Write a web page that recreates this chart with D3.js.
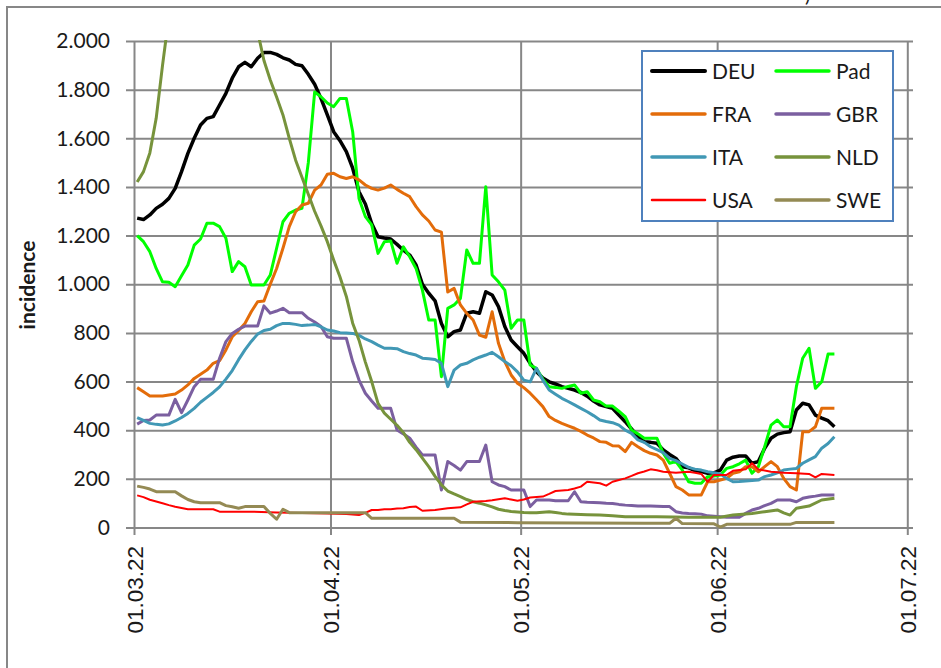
<!DOCTYPE html>
<meta charset="utf-8">
<script src="https://d3js.org/d3.v7.min.js"></script>
<style>
  body { margin: 0; background: #fff; }
  svg text { font-family: Lato, "Liberation Sans", sans-serif; fill: #1a1a1a; }
  .xlab text { font-family: "Liberation Sans", Arial, sans-serif; }
</style>
<div id="chart"></div>
<script>

// days counted from 01.03.22, value = incidence
var deu = [[0,1272],[1,1266],[2,1285],[3,1312],[4,1329],[5,1353],[6,1394],[7,1463],[8,1538],[9,1600],[10,1655],[11,1682],[12,1689],[13,1737],[14,1785],[15,1847],[16,1894],[17,1912],[18,1894],[19,1929],[20,1953],[21,1953],[22,1945],[23,1931],[24,1922],[25,1904],[26,1898],[27,1863],[28,1822],[29,1764],[30,1696],[31,1627],[32,1590],[33,1545],[34,1477],[35,1380],[36,1330],[37,1250],[38,1195],[39,1190],[40,1186],[41,1164],[42,1140],[43,1120],[44,1079],[45,1000],[46,963],[47,932],[48,839],[49,784],[50,805],[51,812],[52,881],[53,887],[54,881],[55,969],[56,956],[57,908],[58,826],[59,771],[60,743],[61,716],[62,675],[63,640],[64,615],[65,599],[66,590],[67,579],[68,572],[69,565],[70,555],[71,540],[72,520],[73,504],[74,497],[75,490],[76,462],[77,435],[78,405],[79,375],[80,353],[81,350],[82,346],[83,319],[84,300],[85,284],[86,250],[87,245],[88,234],[89,230],[90,223],[91,225],[92,236],[93,277],[94,289],[95,294],[96,294],[97,264],[98,271],[99,326],[100,367],[101,384],[102,390],[103,394],[104,483],[105,511],[106,504],[107,462],[108,450],[109,439],[110,414]];

var pad = [[0,1200],[1,1175],[2,1134],[3,1065],[4,1010],[5,1008],[6,990],[7,1035],[8,1079],[9,1161],[10,1186],[11,1251],[12,1251],[13,1237],[14,1189],[15,1052],[16,1093],[17,1072],[18,997],[19,997],[20,997],[21,1038],[22,1148],[23,1257],[24,1292],[25,1305],[26,1312],[27,1500],[28,1790],[29,1771],[30,1745],[31,1730],[32,1764],[33,1764],[34,1627],[35,1353],[36,1278],[37,1244],[38,1127],[39,1175],[40,1178],[41,1086],[42,1154],[43,1113],[44,1065],[45,976],[46,853],[47,853],[48,620],[49,901],[50,915],[51,942],[52,1141],[53,1086],[54,1086],[55,1401],[56,1038],[57,1010],[58,976],[59,819],[60,853],[61,853],[62,668],[63,654],[64,610],[65,579],[66,576],[67,572],[68,580],[69,586],[70,552],[71,558],[72,524],[73,517],[74,499],[75,499],[76,478],[77,456],[78,401],[79,385],[80,367],[81,367],[82,367],[83,305],[84,264],[85,271],[86,236],[87,188],[88,182],[89,182],[90,209],[91,212],[92,216],[93,243],[94,250],[95,262],[96,277],[97,223],[98,250],[99,332],[100,421],[101,442],[102,414],[103,414],[104,579],[105,696],[106,737],[107,572],[108,599],[109,713],[110,713]];

var fra = [[0,575],[1,558],[2,541],[3,541],[4,541],[5,545],[6,549],[7,565],[8,586],[9,613],[10,630],[11,647],[12,675],[13,686],[14,730],[15,784],[16,810],[17,839],[18,887],[19,928],[20,931],[21,1000],[22,1065],[23,1148],[24,1237],[25,1298],[26,1326],[27,1333],[28,1387],[29,1408],[30,1452],[31,1456],[32,1442],[33,1435],[34,1442],[35,1429],[36,1408],[37,1394],[38,1387],[39,1395],[40,1408],[41,1390],[42,1374],[43,1360],[44,1319],[45,1285],[46,1260],[47,1223],[48,1214],[49,968],[50,983],[51,915],[52,880],[53,853],[54,791],[55,782],[56,887],[57,757],[58,682],[59,627],[60,593],[61,575],[62,552],[63,525],[64,497],[65,456],[66,440],[67,428],[68,418],[69,408],[70,395],[71,380],[72,368],[73,353],[74,350],[75,336],[76,335],[77,312],[78,350],[79,332],[80,316],[81,305],[82,298],[83,277],[84,223],[85,168],[86,154],[87,134],[88,134],[89,134],[90,188],[91,188],[92,195],[93,202],[94,223],[95,229],[96,250],[97,250],[98,229],[99,250],[100,271],[101,250],[102,202],[103,168],[104,154],[105,394],[106,394],[107,414],[108,490],[109,490],[110,490]];

var gbr = [[0,425],[1,440],[2,442],[3,462],[4,462],[5,462],[6,527],[7,472],[8,524],[9,579],[10,609],[11,609],[12,609],[13,696],[14,764],[15,798],[16,815],[17,828],[18,828],[19,828],[20,911],[21,881],[22,890],[23,901],[24,883],[25,883],[26,883],[27,860],[28,845],[29,826],[30,784],[31,778],[32,778],[33,778],[34,682],[35,606],[36,552],[37,520],[38,490],[39,490],[40,490],[41,401],[42,385],[43,367],[44,330],[45,298],[46,298],[47,298],[48,154],[49,271],[50,255],[51,236],[52,271],[53,271],[54,271],[55,339],[56,188],[57,175],[58,168],[59,154],[60,154],[61,154],[62,86],[63,113],[64,113],[65,113],[66,110],[67,110],[68,110],[69,147],[70,106],[71,104],[72,103],[73,102],[74,100],[75,99],[76,95],[77,92],[78,90],[79,88],[80,88],[81,88],[82,87],[83,86],[84,86],[85,65],[86,60],[87,58],[88,57],[89,55],[90,48],[91,46],[92,44],[93,42],[94,42],[95,42],[96,58],[97,72],[98,79],[99,90],[100,99],[101,113],[102,113],[103,113],[104,106],[105,120],[106,125],[107,129],[108,134],[109,134],[110,134]];

var ita = [[0,452],[1,440],[2,428],[3,424],[4,421],[5,426],[6,438],[7,452],[8,469],[9,490],[10,515],[11,535],[12,555],[13,578],[14,610],[15,645],[16,690],[17,730],[18,765],[19,795],[20,810],[21,815],[22,830],[23,839],[24,839],[25,835],[26,830],[27,832],[28,835],[29,825],[30,812],[31,808],[32,801],[33,800],[34,798],[35,790],[36,775],[37,764],[38,750],[39,737],[40,737],[41,735],[42,723],[43,715],[44,709],[45,696],[46,694],[47,691],[48,675],[49,579],[50,647],[51,668],[52,675],[53,689],[54,700],[55,709],[56,720],[57,702],[58,682],[59,665],[60,640],[61,606],[62,599],[63,654],[64,606],[65,565],[66,548],[67,531],[68,518],[69,504],[70,490],[71,476],[72,460],[73,442],[74,436],[75,431],[76,421],[77,400],[78,387],[79,360],[80,350],[81,332],[82,320],[83,308],[84,284],[85,275],[86,261],[87,247],[88,240],[89,236],[90,229],[91,225],[92,220],[93,202],[94,188],[95,189],[96,191],[97,193],[98,195],[99,209],[100,216],[101,225],[102,236],[103,240],[104,243],[105,264],[106,278],[107,291],[108,326],[109,345],[110,373]];

// NLD runs above the axis maximum between roughly day 5 and day 19
var nld = [[0,1420],[1,1463],[2,1540],[3,1682],[4,1900],[5,2100],[8,2450],[12,2500],[16,2250],[19,2040],[20,1920],[21,1840],[22,1770],[23,1696],[24,1600],[25,1510],[26,1440],[27,1370],[28,1300],[29,1240],[30,1175],[31,1100],[32,1030],[33,950],[34,840],[35,770],[36,680],[37,600],[38,510],[39,470],[40,445],[41,420],[42,390],[43,350],[44,320],[45,285],[46,250],[47,210],[48,175],[49,150],[50,138],[51,127],[52,115],[53,106],[54,100],[55,93],[56,85],[57,75],[58,70],[59,66],[60,64],[61,62],[62,61],[63,61],[64,63],[65,65],[66,62],[67,58],[68,55],[69,54],[71,52],[73,51],[75,48],[77,44],[82,44],[87,42],[92,42],[94,51],[97,58],[99,65],[101,72],[102,60],[103,51],[104,79],[106,88],[108,113],[110,120]];

var usa = [[0,132],[1,125],[2,114],[3,107],[4,100],[5,92],[6,85],[7,80],[8,75],[12,75],[13,65],[18,65],[22,62],[26,60],[30,58],[33,55],[35,51],[36,60],[37,72],[38,72],[39,75],[40,75],[41,78],[42,79],[43,84],[44,86],[45,69],[47,72],[49,79],[51,83],[52,95],[53,106],[55,109],[56,112],[58,120],[59,115],[60,110],[61,115],[62,123],[64,127],[65,138],[66,150],[68,154],[69,160],[70,168],[71,188],[72,185],[73,182],[74,172],[75,188],[76,195],[77,202],[78,212],[79,223],[80,230],[81,239],[82,235],[83,229],[85,225],[87,229],[88,225],[89,220],[90,188],[91,216],[93,216],[94,233],[95,236],[96,239],[97,264],[98,239],[100,229],[102,225],[104,223],[106,220],[107,206],[108,220],[110,216]];

var swe = [[0,170],[1,165],[2,158],[3,147],[4,147],[5,147],[6,147],[7,130],[8,115],[9,106],[10,102],[13,102],[14,90],[15,85],[16,79],[17,86],[20,86],[21,58],[22,34],[23,75],[24,61],[36,61],[37,38],[50,38],[51,22],[60,20],[70,18],[80,17],[84,17],[85,38],[86,16],[91,15],[92,2],[93,13],[103,13],[104,21],[110,21]];

var yTicks = [0, 200, 400, 600, 800, 1000, 1200, 1400, 1600, 1800, 2000];
var xTickLabels = ["01.03.22", "01.04.22", "01.05.22", "01.06.22", "01.07.22"];

var series = [
  { name: "DEU", color: "#000000", width: 3.5, data: deu },
  { name: "Pad", color: "#00ff00", width: 3, data: pad },
  { name: "FRA", color: "#e36c0a", width: 3, data: fra },
  { name: "GBR", color: "#7b5fa0", width: 3, data: gbr },
  { name: "ITA", color: "#4198b5", width: 3, data: ita },
  { name: "NLD", color: "#77933c", width: 3, data: nld },
  { name: "USA", color: "#ff0000", width: 2, data: usa },
  { name: "SWE", color: "#948a54", width: 3, data: swe }
];

var W = 941, H = 668;
var gridColor = "#878787";

var svg = d3.select("#chart").append("svg")
  .attr("width", W)
  .attr("height", H);

// frame of the (cropped) chart area
svg.append("path")
  .attr("d", "M7," + H + "V7H" + W)
  .attr("fill", "none")
  .attr("stroke", gridColor)
  .attr("stroke-width", 2);

// piece of the cut off title
svg.append("text").attr("x", 805).attr("y", 2).attr("font-size", 20).text(")");

var parse = d3.timeParse("%d.%m.%y");
var start = parse(xTickLabels[0]);

var x = d3.scaleTime()
  .domain([start, parse(xTickLabels[xTickLabels.length - 1])])
  .range([134, 907.3]);

var y = d3.scaleLinear()
  .domain([0, 2000])
  .range([527.5, 41]);

var de = d3.formatLocale({ decimal: ",", thousands: ".", grouping: [3], currency: ["", " €"] });

// y axis with horizontal gridlines
svg.append("g")
  .attr("transform", "translate(126,0)")
  .call(d3.axisLeft(y)
    .tickValues(yTicks)
    .tickSizeInner(-(913 - 126))
    .tickSizeOuter(0)
    .tickPadding(16)
    .tickFormat(de.format(",d")))
  .call(g => g.select(".domain").remove())
  .call(g => g.selectAll("line").attr("stroke", gridColor).attr("stroke-width", 2))
  .call(g => g.selectAll("text")
    .attr("font-size", 21)
    .attr("fill", "#1a1a1a")
    .style("font-family", "Lato, 'Liberation Sans', sans-serif"));

// x axis with vertical gridlines
svg.append("g")
  .attr("class", "xlab")
  .attr("transform", "translate(0,535)")
  .call(d3.axisBottom(x)
    .tickValues(xTickLabels.map(parse))
    .tickSizeInner(-(535 - 41))
    .tickSizeOuter(0)
    .tickFormat(d3.timeFormat("%d.%m.%y")))
  .call(g => g.select(".domain").remove())
  .call(g => g.selectAll("line").attr("stroke", gridColor).attr("stroke-width", 2))
  .call(g => g.selectAll("text")
    .attr("font-size", 22.5)
    .attr("fill", "#1a1a1a")
    .attr("transform", "rotate(-90)")
    .attr("text-anchor", "end")
    .attr("x", -11)
    .attr("y", 0)
    .attr("dy", "0.36em"));

// y axis title
svg.append("text")
  .attr("transform", "translate(35,285) rotate(-90)")
  .attr("text-anchor", "middle")
  .attr("font-size", 21)
  .attr("font-weight", "bold")
  .text("incidence");

svg.append("clipPath").attr("id", "plot")
  .append("rect").attr("x", 134).attr("y", 40).attr("width", 779).attr("height", 489);

// each value belongs to one day, drawn at its middle
var line = d3.line()
  .x(d => x(d3.timeHour.offset(d3.timeDay.offset(start, d[0]), 12)))
  .y(d => y(d[1]));

svg.append("g")
  .attr("clip-path", "url(#plot)")
  .selectAll("path")
  .data(series)
  .enter()
  .append("path")
  .attr("d", d => line(d.data))
  .attr("fill", "none")
  .attr("stroke", d => d.color)
  .attr("stroke-width", d => d.width)
  .attr("stroke-linejoin", "round");

// legend
var legend = svg.append("g");
legend.append("rect")
  .attr("x", 642).attr("y", 51)
  .attr("width", 251).attr("height", 170)
  .attr("fill", "#fff")
  .attr("stroke", "#4f81bd")
  .attr("stroke-width", 2);

var item = legend.selectAll(".item")
  .data(series)
  .enter()
  .append("g")
  .attr("class", "item")
  .attr("transform", (d, i) => "translate(" + (i % 2 ? 776 : 652) + "," + (71 + Math.floor(i / 2) * 43) + ")");

item.append("line")
  .attr("x1", 0).attr("x2", 53)
  .attr("stroke", d => d.color)
  .attr("stroke-width", d => d.width + 0.5)
  .attr("stroke-linecap", "round");

item.append("text")
  .attr("x", 60)
  .attr("dy", "0.36em")
  .attr("font-size", 21)
  .text(d => d.name);

</script>
